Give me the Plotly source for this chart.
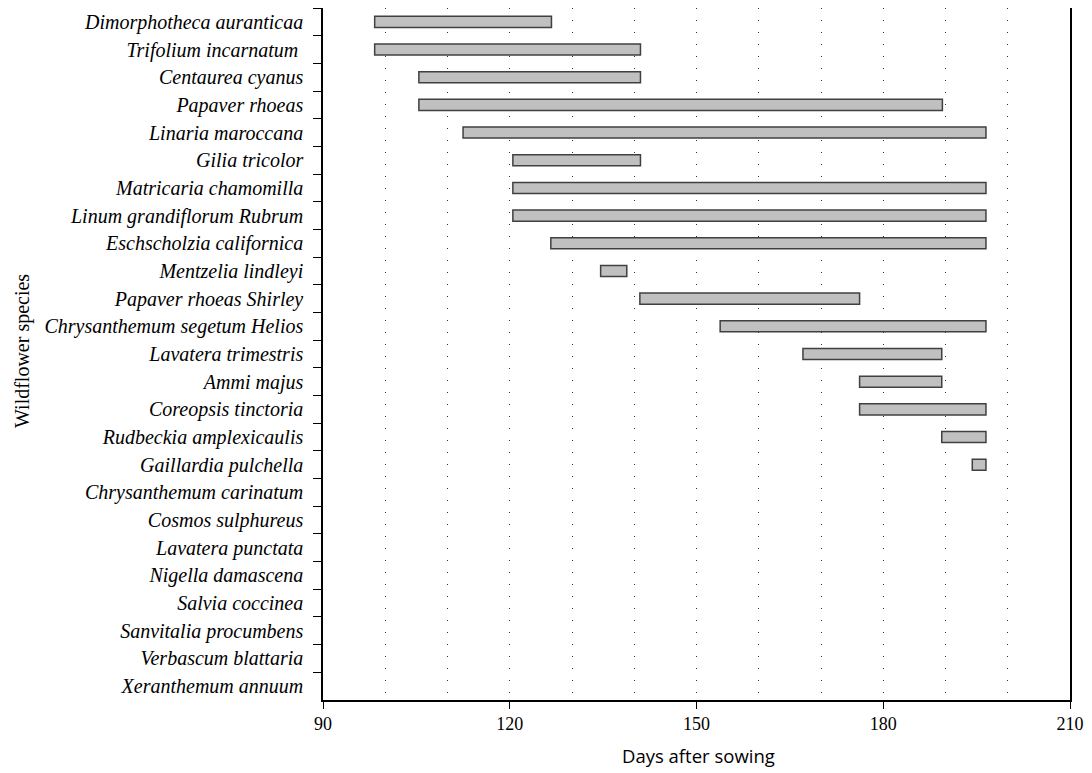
import plotly.graph_objects as go

species = [
    "Dimorphotheca auranticaa", "Trifolium incarnatum ", "Centaurea cyanus",
    "Papaver rhoeas", "Linaria maroccana", "Gilia tricolor",
    "Matricaria chamomilla", "Linum grandiflorum Rubrum", "Eschscholzia californica",
    "Mentzelia lindleyi", "Papaver rhoeas Shirley", "Chrysanthemum segetum Helios",
    "Lavatera trimestris", "Ammi majus", "Coreopsis tinctoria",
    "Rudbeckia amplexicaulis", "Gaillardia pulchella", "Chrysanthemum carinatum",
    "Cosmos sulphureus", "Lavatera punctata", "Nigella damascena",
    "Salvia coccinea", "Sanvitalia procumbens", "Verbascum blattaria",
    "Xeranthemum annuum",
]
flower_start = [98.3, 98.3, 105.4, 105.4, 112.5, 120.5, 120.5, 120.5, 126.6, 134.6,
                140.9, 153.8, 167.1, 176.2, 176.2, 189.4, 194.3,
                None, None, None, None, None, None, None, None]
flower_end = [126.7, 141.0, 141.0, 189.5, 196.5, 141.0, 196.5, 196.5, 196.5, 138.8,
              176.2, 196.5, 189.4, 189.4, 196.5, 196.5, 196.5,
              None, None, None, None, None, None, None, None]
x_ticks = [90, 120, 150, 180, 210]

dur = [(e - s) if (s is not None and e is not None) else None
       for s, e in zip(flower_start, flower_end)]

fig = go.Figure()
fig.add_trace(go.Bar(
    y=species, x=dur, base=flower_start, orientation="h", width=0.4,
    marker=dict(color="#c0c0c0", line=dict(color="#404040", width=1.5)),
    hoverinfo="skip",
))

serif = "Liberation Serif, Times New Roman, serif"
# page body has an 8px margin: figure is placed at (8, 8)
W, H = 1084, 765
L, R, T, B = 315, 22, 0, 73
pw = W - L - R
ph = H - T - B
n = len(species)
fig.update_layout(
    width=W, height=H,
    margin=dict(l=L, r=R, t=T, b=B, autoexpand=False),
    paper_bgcolor="white", plot_bgcolor="white",
    showlegend=False,
    font=dict(family=serif, color="black"),
    xaxis=dict(
        range=[90, 210], tickvals=x_ticks, ticks="outside", ticklen=7,
        tickwidth=1.3, tickcolor="black",
        showline=True, linecolor="black", linewidth=1.5,
        showgrid=True, gridcolor="#333", gridwidth=1, griddash="1px,11px",
        minor=dict(dtick=10, tick0=90, showgrid=True, gridcolor="#333", gridwidth=1,
                   griddash="1px,11px", ticks=""),
        tickfont=dict(family=serif, size=18, color="black"),
        zeroline=False, automargin=False,
    ),
    yaxis=dict(
        type="category", categoryorder="array", categoryarray=species,
        range=[n - 0.5, -0.5],
        tickson="boundaries", ticks="outside", ticklen=8, tickwidth=1.3,
        tickcolor="black",
        showline=True, linecolor="black", linewidth=1.5, mirror=True,
        showgrid=False, zeroline=False, automargin=False,
        tickfont=dict(family=serif, size=20, color="black", style="italic"),
        ticklabelstandoff=14,
    ),
    annotations=[
        dict(text="Wildflower species", xref="paper", yref="paper",
             x=(14 - L) / pw, y=(692 - 343) / ph, textangle=-90,
             showarrow=False, font=dict(family=serif, size=20, color="black"),
             xanchor="center", yanchor="middle"),
        dict(text="Days after sowing", xref="paper", yref="paper",
             x=(690 - L) / pw, y=-(747 - 692) / ph,
             showarrow=False, font=dict(family="Open Sans, Noto Sans, sans-serif", size=18.5, color="black"),
             xanchor="center", yanchor="middle"),
    ],
)

fig.write_html("out.html")
